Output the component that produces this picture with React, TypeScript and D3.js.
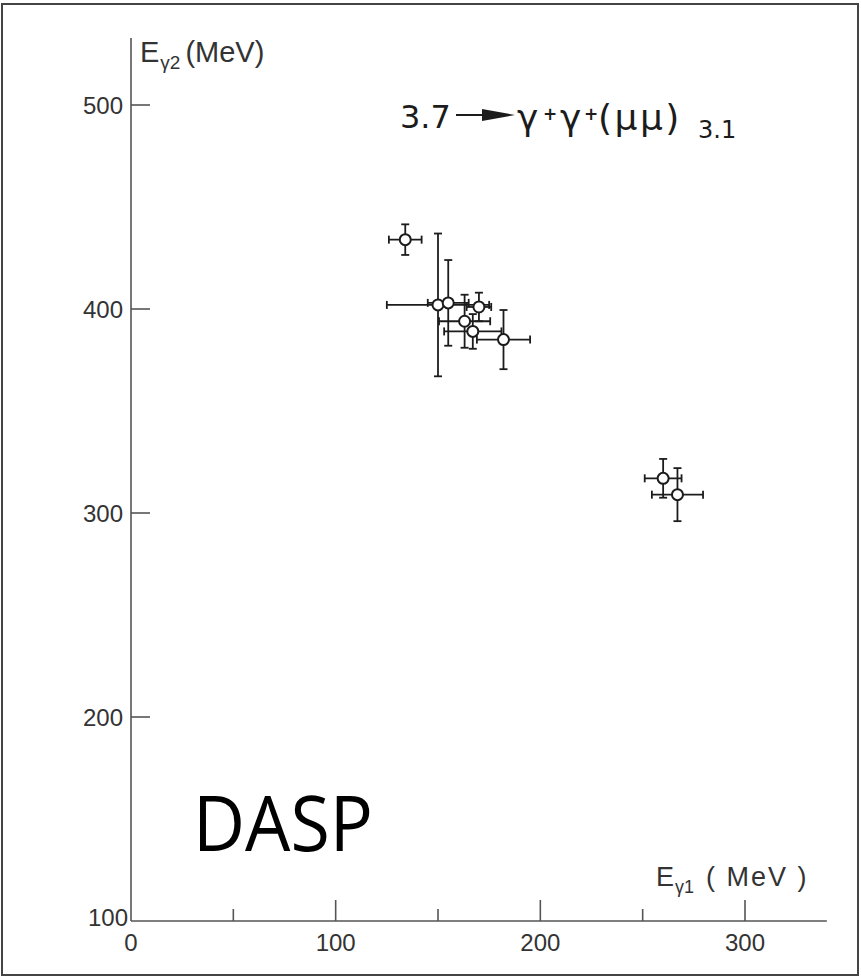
import React from "react";
import * as d3 from "d3";

// ---- data ----
const eGamma1 = [134, 150, 155, 163, 170, 167, 182, 260, 267];
const eGamma2 = [434, 402, 403, 394, 401, 389, 385, 317, 309];
const errX = [8, 25, 10, 12.5, 6, 14, 13, 9, 12.5];
const errY = [7.5, 35, 21, 13, 7, 8.5, 14.5, 9.5, 13];
const xMajorTicks = [0, 100, 200, 300];
const xMinorTicks = [50, 150, 250];
const yTicks = [500, 400, 300, 200];

const W = 861;
const H = 978;

export default function App() {
  const x = d3.scaleLinear().domain([0, 300]).range([131, 745]);
  const y = d3.scaleLinear().domain([100, 500]).range([921, 105]);
  const ink = "#1c1c1c";
  const axisInk = "#555";
  const font = "'Liberation Sans', Arial, sans-serif";
  const tfont = "'DejaVu Sans', sans-serif";
  const cap = 4;

  const pts = eGamma1.map((v, i) => ({ x: v, y: eGamma2[i], ex: errX[i], ey: errY[i] }));

  return (
    <svg
      width={W}
      height={H}
      style={{ position: "absolute", left: 0, top: 0, background: "#fff" }}
      fontFamily={font}
    >
      <rect x={0} y={0} width={W} height={H} fill="#fff" />
      {/* frame */}
      <rect x={2} y={4} width={856} height={971} fill="none" stroke="#444" strokeWidth={2} />

      {/* y axis */}
      <line x1={x(0)} y1={38} x2={x(0)} y2={y(100)} stroke={axisInk} strokeWidth={1.6} />
      {yTicks.map((t) => (
        <g key={"yt" + t}>
          <line x1={x(0)} x2={x(0) + 19} y1={y(t)} y2={y(t)} stroke={axisInk} strokeWidth={1.6} />
          <text x={x(0) - 8} y={y(t)} dy="0.36em" textAnchor="end" fontSize={24} fill="#333">
            {t}
          </text>
        </g>
      ))}
      <text x={x(0) - 3} y={y(100)} dy="0.2em" textAnchor="end" fontSize={24} fill="#333">
        100
      </text>

      {/* x axis */}
      <line x1={x(0)} y1={y(100)} x2={x(340)} y2={y(100)} stroke={axisInk} strokeWidth={1.6} />
      {xMajorTicks.map((t) => (
        <g key={"xt" + t}>
          {t > 0 && (
            <line x1={x(t)} x2={x(t)} y1={y(100)} y2={y(100) - 21} stroke={axisInk} strokeWidth={1.6} />
          )}
          <text x={x(t)} y={y(100) + 30} textAnchor="middle" fontSize={24} fill="#333">
            {t}
          </text>
        </g>
      ))}
      {xMinorTicks.map((t) => (
        <line key={"xm" + t} x1={x(t)} x2={x(t)} y1={y(100)} y2={y(100) - 12} stroke={axisInk} strokeWidth={1.6} />
      ))}

      {/* axis titles */}
      <text x={140} y={62} fontSize={29} fill="#333">
        E
        <tspan fontSize={19} dy={7} dx={1}>γ2</tspan>
        <tspan fontSize={29} dy={-7} dx={5}>(MeV)</tspan>
      </text>
      <text x={656} y={886} fontSize={27} fill="#333">
        E
        <tspan fontSize={18} dy={7} dx={1}>γ1</tspan>
        <tspan fontSize={27} dy={-7} dx={12} letterSpacing={2}>( MeV )</tspan>
      </text>

      {/* reaction title */}
      <g fill={ink} fontFamily={tfont}>
        <text x={400} y={128} fontSize={32}>3.7</text>
        <line x1={456} y1={115} x2={490} y2={115} stroke={ink} strokeWidth={2.2} />
        <path d="M482,109 L515,115 L482,121 Z" />
        <text x={517} y={130} fontSize={36}>γ</text>
        <text x={543} y={120} fontSize={17} fontWeight="bold">+</text>
        <text x={560} y={130} fontSize={36}>γ</text>
        <text x={584} y={120} fontSize={17} fontWeight="bold">+</text>
        <text x={598} y={130} fontSize={36} letterSpacing={2.5}>(μμ)</text>
        <text x={698} y={138} fontSize={24}>3.1</text>
      </g>

      {/* error bars + points */}
      {pts.map((p, i) => (
        <g key={"p" + i} stroke={ink} strokeWidth={1.8}>
          <line x1={x(p.x - p.ex)} x2={x(p.x + p.ex)} y1={y(p.y)} y2={y(p.y)} />
          <line x1={x(p.x - p.ex)} x2={x(p.x - p.ex)} y1={y(p.y) - cap} y2={y(p.y) + cap} />
          <line x1={x(p.x + p.ex)} x2={x(p.x + p.ex)} y1={y(p.y) - cap} y2={y(p.y) + cap} />
          <line x1={x(p.x)} x2={x(p.x)} y1={y(p.y - p.ey)} y2={y(p.y + p.ey)} />
          <line x1={x(p.x) - cap} x2={x(p.x) + cap} y1={y(p.y - p.ey)} y2={y(p.y - p.ey)} />
          <line x1={x(p.x) - cap} x2={x(p.x) + cap} y1={y(p.y + p.ey)} y2={y(p.y + p.ey)} />
        </g>
      ))}
      {pts.map((p, i) => (
        <circle key={"c" + i} cx={x(p.x)} cy={y(p.y)} r={5.5} fill="#fff" stroke={ink} strokeWidth={2} />
      ))}

      {/* DASP label */}
      <text x={193} y={851} fontSize={76} fill="#000" fontFamily="'Open Sans', 'Noto Sans', sans-serif" textLength={180} lengthAdjust="spacingAndGlyphs">
        DASP
      </text>
    </svg>
  );
}
